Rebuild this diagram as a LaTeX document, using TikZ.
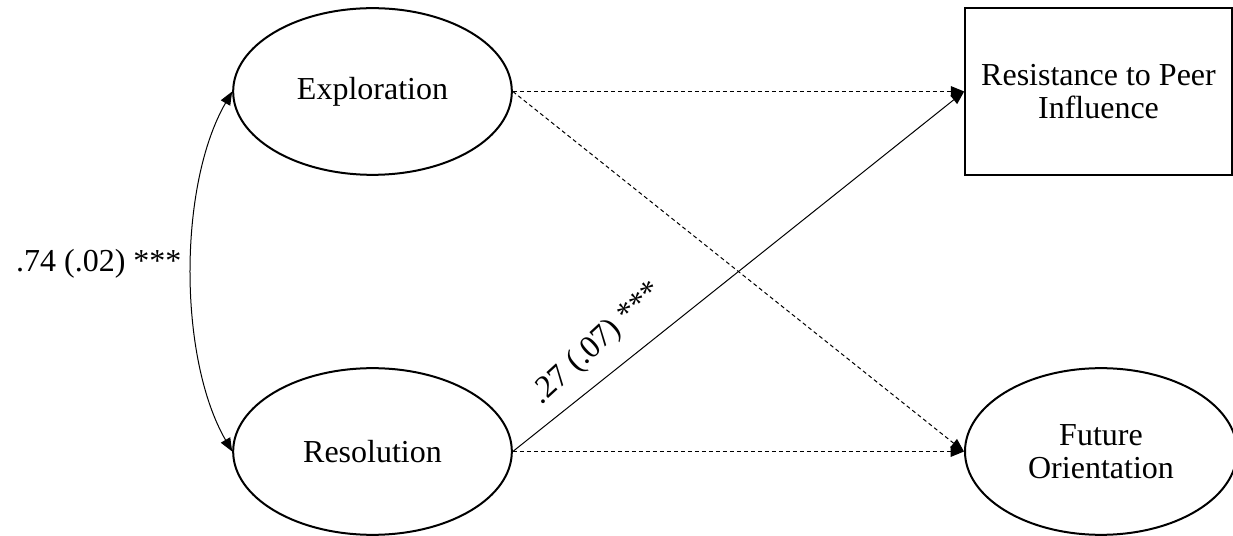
\documentclass[tikz,border=0pt]{standalone}
\usepackage{fontspec}
\setmainfont{Liberation Serif}
\usetikzlibrary{shapes.geometric,arrows.meta}

\begin{document}
\begin{tikzpicture}[x=0.75pt,y=0.75pt,
		font=\fontsize{24}{25}\selectfont,
		>={Triangle[length=10pt,width=8pt]},
		latent/.style={draw,ellipse,line width=1.5pt,minimum width=209pt,minimum height=125pt,inner sep=0pt,align=center},
		observed/.style={draw,rectangle,line width=1.5pt,minimum width=200pt,minimum height=125pt,inner sep=0pt,align=center},
		effect/.style={line width=0.75pt,->},
		nseffect/.style={effect,dash pattern=on 3pt off 2.25pt}]
			\useasboundingbox (0,0) rectangle (1233,536);
			% identity dimensions
			\node[latent] (expl) at (372.5,444.5) {Exploration};
			\node[latent] (resol) at (372.5,84.5) {Resolution};
			% outcomes
			\node[observed] (resist) at (1098.5,444.5) {Resistance to Peer\\Influence};
			\node[latent,minimum width=204pt] (future) at (1101,84.5) {Future\\Orientation};
			% correlation
			\draw[line width=0.75pt,<->] (expl.west) to[out=240,in=120,looseness=0.77] node[pos=0.48,left=4pt]{.74 (.02) ***} (resol.west);
			% paths
			\draw[nseffect] (expl.east) -- (resist.west);
			\draw[nseffect] (expl.east) -- (future.west);
			\draw[nseffect] (resol.east) -- (future.west);
			\draw[effect] (resol.east) -- node[pos=0.235,sloped,rotate=4,above=9pt]{.27 (.07) ***} (resist.west);
		\end{tikzpicture}
\end{document}
